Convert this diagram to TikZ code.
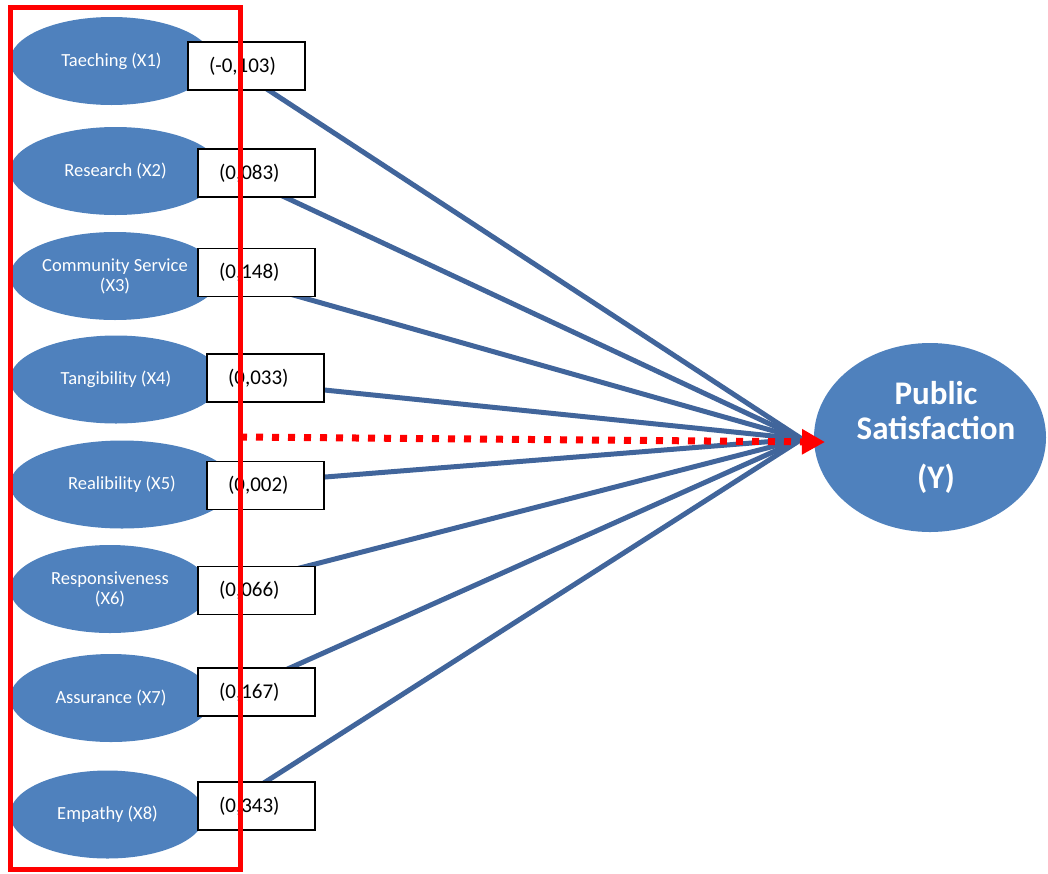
\documentclass[tikz,border=0pt]{standalone}
\usepackage{fontspec}
\setmainfont{Carlito}
\usetikzlibrary{shapes.geometric,arrows.meta,backgrounds}
\definecolor{ovalblue}{HTML}{4F81BD}
\definecolor{linkblue}{HTML}{41659B}
\definecolor{hotred}{HTML}{FF0000}
\begin{document}
\begin{tikzpicture}[x=1pt,y=-1pt,
  var/.style={ellipse, fill=ovalblue, inner sep=0pt, minimum height=88pt,
    text=white, align=center, font=\fontsize{18.5}{20}\selectfont},
  coef/.style={draw=black, line width=1.8pt, fill=white, inner xsep=21pt,
    inner ysep=0pt, text width=75pt, minimum height=48pt, align=left,
    font=\fontsize{21}{24}\selectfont},
  ytext/.style={text=white, align=center, inner sep=0pt,
    font=\bfseries\fontsize{33}{35}\selectfont},
  link/.style={draw=linkblue, line width=5pt},
  dotline/.style={draw=hotred, line width=7pt, dash pattern=on 7pt off 9pt,
    -{Triangle[length=23pt,width=24pt]}},
  frame/.style={draw=hotred, line width=5pt, inner sep=0pt}
]
\useasboundingbox (0,0) rectangle (1048,873);

% independent variables
\node[var, minimum width=203pt] (x1) at (111.5,61)    {Taeching (X1)};
\node[var, minimum width=211pt] (x2) at (115.5,171)   {Research (X2)};
\node[var, minimum width=210pt] (x3) at (115,276)     {Community Service\\(X3)};
\node[var, minimum width=212pt] (x4) at (116,379.5)   {Tangibility (X4)};
\node[var, minimum width=224pt] (x5) at (122,484.5)   {Realibility (X5)};
\node[var, minimum width=200pt] (x6) at (110,589)     {Responsiveness\\(X6)};
\node[var, minimum width=202pt] (x7) at (111,698)     {Assurance (X7)};
\node[var, minimum width=195pt] (x8) at (107.5,814.5) {Empathy (X8)};

% dependent variable
\node[var, minimum width=232pt, minimum height=189pt] (y) at (930,437.5) {};
\node[ytext] (ylab) at ([xshift=6pt]y.center) {Public\\Satisfaction\\[14pt](Y)};

% coefficient boxes
\node[coef] (c1) at (246.5,66)    {(-0,103)};
\node[coef] (c2) at (256.5,173)   {(0,083)};
\node[coef] (c3) at (256.5,272.5) {(0,148)};
\node[coef] (c4) at (265.5,378)   {(0,033)};
\node[coef] (c5) at (265.5,485.5) {(0,002)};
\node[coef] (c6) at (256.5,590.5) {(0,066)};
\node[coef] (c7) at (256.5,692)   {(0,167)};
\node[coef] (c8) at (256.5,806)   {(0,343)};

\coordinate (meet) at (802,439);

\begin{scope}[on background layer]
  \draw[link] ([shift={(3.5,12)}]c1.center)   -- (meet);
  \draw[link] ([shift={(2.5,12)}]c2.center)   -- (meet);
  \draw[link] ([shift={(1.5,12.5)}]c3.center) -- (meet);
  \draw[link] ([shift={(34.5,9.5)}]c4.center) -- (meet);
  \draw[link] ([shift={(34.5,-6.5)}]c5.center) -- (meet);
  \draw[link] ([shift={(-3.5,-10.5)}]c6.center) -- (meet);
  \draw[link] ([shift={(6.5,-12)}]c7.center)  -- (meet);
  \draw[link] ([shift={(-11.5,-11)}]c8.center) -- (meet);
\end{scope}

% red frame
\node[frame, minimum width=230pt, minimum height=862.5pt] (box) at (125,438.25) {};

% red dotted arrow
\coordinate (dstart) at (240,437);
\coordinate (tip) at (825,442);
\draw[dotline] (dstart) -- (tip);
\end{tikzpicture}
\end{document}
